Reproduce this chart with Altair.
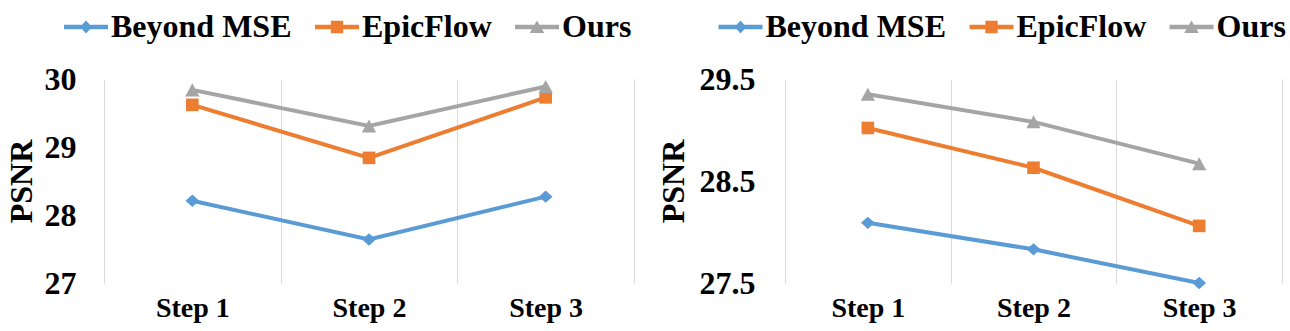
import altair as alt
import pandas as pd

FONT = "Liberation Serif"

steps = ["Step 1", "Step 2", "Step 3"]
series = ["Beyond MSE", "EpicFlow", "Ours"]
colors = ["#5B9BD5", "#ED7D31", "#A5A5A5"]

# left panel values
left_beyond = [28.21, 27.64, 28.27]
left_epic = [29.62, 28.84, 29.73]
left_ours = [29.84, 29.31, 29.89]
left_ticks = [27, 28, 29, 30]

# right panel values
right_beyond = [28.09, 27.83, 27.50]
right_epic = [29.02, 28.63, 28.06]
right_ours = [29.35, 29.08, 28.67]
right_ticks = [27.5, 28.5, 29.5]

# marker shapes (unit paths) for diamond, square, triangle
marker_paths = [
    "M0,-0.88L0.98,0L0,0.88L-0.98,0Z",
    "M-0.9,-0.9H0.9V0.9H-0.9Z",
    "M0,-0.93L1.02,0.93L-1.02,0.93Z",
]
# legend symbols: line segment + marker
legend_paths = [
    "M-1,-0.105H1V0.105H-1Z M0,-0.3L0.265,0L0,0.3L-0.265,0Z",
    "M-1,-0.105H1V0.105H-1Z M-0.28,-0.28H0.28V0.28H-0.28Z",
    "M-1,-0.105H1V0.105H-1Z M0,-0.3L0.33,0.27L-0.33,0.27Z",
]


def make_df(vals):
    rows = []
    for s, v in zip(series, vals):
        for st, y in zip(steps, v):
            rows.append({"step": st, "series": s, "psnr": y})
    return pd.DataFrame(rows)


def panel(vals, domain, ticks, fmt, width, lx, ly, lab_pad, title_pad):
    df = make_df(vals)
    base = alt.Chart(df)
    x = alt.X(
        "step:N",
        sort=steps,
        bandPosition=0.5,
        scale=alt.Scale(type="band", paddingInner=0, paddingOuter=0),
        axis=alt.Axis(
            title=None, labelAngle=0, tickBand="extent", grid=True,
            gridColor="#D9D9D9", gridWidth=1, domain=False, ticks=False,
            tickSize=0, labelFont=FONT, labelFontSize=28,
            labelFontWeight="bold", labelColor="black", labelPadding=11,
        ),
    )
    y = alt.Y(
        "psnr:Q",
        scale=alt.Scale(domain=domain, nice=False, zero=False),
        axis=alt.Axis(
            values=ticks, format=fmt, grid=False, domain=False, ticks=False,
            tickSize=0, labelFont=FONT, labelFontSize=32,
            labelFontWeight="bold", labelColor="black", labelPadding=lab_pad,
            title="PSNR", titleFont=FONT, titleFontSize=32,
            titleFontWeight="bold", titleColor="black", titlePadding=title_pad,
        ),
    )
    leg = alt.Legend(
        title=None, orient="none", legendX=lx, legendY=ly,
        direction="horizontal", columns=3, labelFont=FONT, labelFontSize=32,
        labelFontWeight="bold", labelColor="black", labelOffset=3,
        symbolSize=1936, symbolStrokeWidth=0, symbolOpacity=1,
        columnPadding=23, padding=0, labelLimit=400,
    )
    cscale = alt.Scale(domain=series, range=colors)
    color = alt.Color("series:N", scale=cscale, legend=leg)
    shape = alt.Shape("series:N",
                      scale=alt.Scale(domain=series, range=legend_paths),
                      legend=leg)

    lines = base.mark_line(strokeWidth=4).encode(x=x, y=y, color=color)
    pts = [
        base.transform_filter(alt.datum.series == s)
        .mark_point(shape=marker_paths[i], filled=True, size=196, opacity=1,
                    strokeWidth=0)
        .encode(x=x, y=y, color=color)
        for i, s in enumerate(series)
    ]
    legend_layer = (
        base.transform_filter("false")
        .mark_point(filled=True, opacity=1, strokeWidth=0)
        .encode(x=x, y=y, color=color, shape=shape)
    )
    return alt.layer(lines, *pts, legend_layer).properties(width=width,
                                                            height=204)


left = panel([left_beyond, left_epic, left_ours], [27, 30], left_ticks, "d",
             530, -40, -74, 28, 6)
right = panel([right_beyond, right_epic, right_ours], [27.5, 29.5],
              right_ticks, ".1f", 497, -66.5, -74, 30, 9)

chart = (
    alt.hconcat(left, right, spacing=151, bounds="flush")
    .resolve_scale(color="independent", shape="independent")
    .configure_view(stroke=None)
    .properties(padding={"left": 5, "top": 5, "right": 0, "bottom": 5},
                background="white")
)

chart.save("out.html", embed_options={"renderer": "svg", "actions": False})
